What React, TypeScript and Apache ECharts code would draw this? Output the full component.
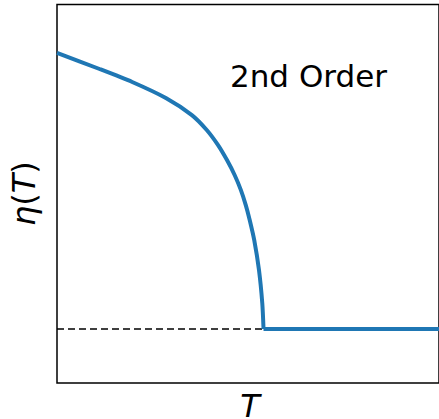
import React, { useEffect, useRef } from "react";
import * as echarts from "echarts";

// Order parameter curve (T in units of Tc)
const T_CURVE = [0, 0.206, 0.364, 0.527, 0.653, 0.725, 0.779, 0.823, 0.86, 0.89, 0.914, 0.933, 0.955, 0.978, 0.994, 1.0];
const ETA_CURVE = [1.0, 0.942, 0.895, 0.837, 0.775, 0.721, 0.667, 0.612, 0.558, 0.504, 0.449, 0.395, 0.322, 0.214, 0.093, 0];
// Flat part above Tc
const T_FLAT = [1.0, 1.85];
const ETA_FLAT = [0, 0];
// Dashed reference line at eta = 0
const T_DASH = [0, 1.0];
const ETA_DASH = [0, 0];

const X_MIN = 0;
const X_MAX = 1.8496;
const Y_MIN = -0.1957;
const Y_MAX = 1.1757;

const FONT = "DejaVu Sans";
const BLUE = "#1f77b4";

export default function App() {
  const ref = useRef<HTMLDivElement>(null);

  useEffect(() => {
    if (!ref.current) return;
    const chart = echarts.init(ref.current, undefined, { renderer: "svg" });
    const zip = (xs: number[], ys: number[]) => xs.map((x, i) => [x, ys[i]]);
    chart.setOption({
      animation: false,
      backgroundColor: "#ffffff",
      grid: {
        left: 57,
        top: 4.5,
        width: 386,
        height: 378.5,
        show: true,
        borderColor: "#000000",
        borderWidth: 1.5,
        backgroundColor: "transparent",
      },
      xAxis: {
        type: "value",
        min: X_MIN,
        max: X_MAX,
        axisLine: { show: false },
        axisTick: { show: false },
        axisLabel: { show: false },
        splitLine: { show: false },
      },
      yAxis: {
        type: "value",
        min: Y_MIN,
        max: Y_MAX,
        axisLine: { show: false },
        axisTick: { show: false },
        axisLabel: { show: false },
        splitLine: { show: false },
      },
      series: [
        {
          type: "line",
          data: zip(T_DASH, ETA_DASH),
          symbol: "none",
          lineStyle: { color: "#000000", width: 1.5, type: [7, 4] },
          z: 1,
        },
        {
          type: "line",
          data: zip(T_CURVE, ETA_CURVE),
          symbol: "none",
          smooth: 0.25,
          lineStyle: { color: BLUE, width: 4, cap: "butt", join: "round" },
          z: 2,
        },
        {
          type: "line",
          data: zip(T_FLAT, ETA_FLAT),
          symbol: "none",
          lineStyle: { color: BLUE, width: 4, cap: "butt" },
          z: 2,
        },
      ],
      graphic: [
        {
          type: "text",
          x: 230,
          y: 75.5,
          style: {
            text: "2nd Order",
            font: `31px "${FONT}"`,
            fill: "#000000",
            textAlign: "left",
            textVerticalAlign: "middle",
          },
        },
        {
          type: "text",
          x: 250,
          y: 405.5,
          style: {
            text: "T",
            font: `italic 32px "${FONT}"`,
            fill: "#000000",
            textAlign: "center",
            textVerticalAlign: "middle",
          },
        },
        {
          type: "text",
          x: 24,
          y: 193.7,
          rotation: Math.PI / 2,
          style: {
            text: "{i|η}({i|T})",
            font: `32px "${FONT}"`,
            fill: "#000000",
            textAlign: "center",
            textVerticalAlign: "middle",
            rich: {
              i: { fontStyle: "italic", fontSize: 32, fontFamily: FONT, fill: "#000000" },
            },
          },
        },
      ],
    });
    return () => chart.dispose();
  }, []);

  return (
    <div
      ref={ref}
      style={{ position: "fixed", left: 0, top: 0, width: 439, height: 419 }}
    />
  );
}
